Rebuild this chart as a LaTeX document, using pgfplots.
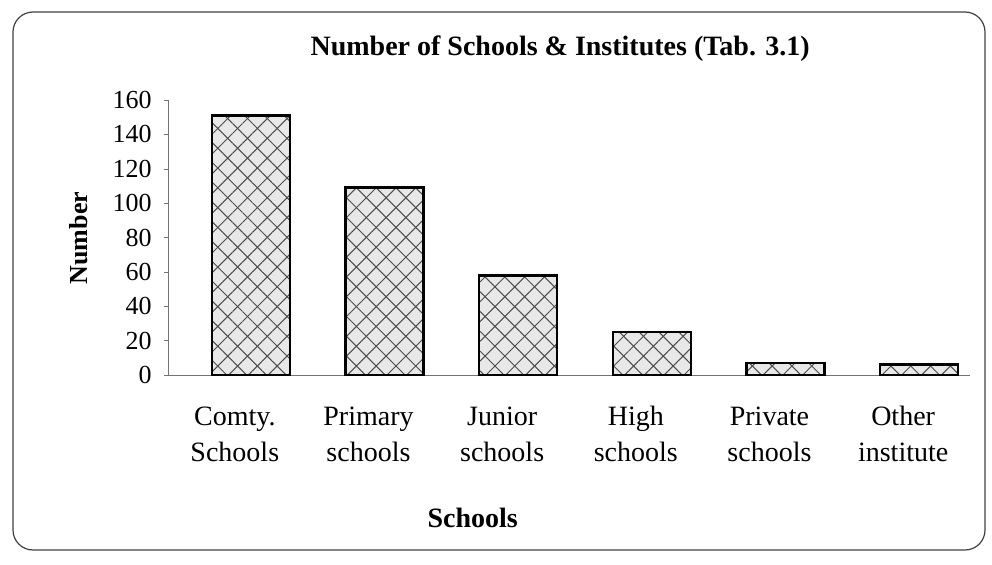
\documentclass[border=0pt]{standalone}
\usepackage{fontspec}
\setmainfont{Liberation Serif}
\usepackage{pgfplots}
\pgfplotsset{compat=1.18}
\usetikzlibrary{patterns.meta}
\begin{document}
\begin{tikzpicture}
\fontsize{12}{18}\selectfont
\path (0,0) rectangle (496pt,282pt);
\draw[black!75, line width=0.6pt, rounded corners=10pt] (6.5pt,7pt) rectangle (492.5pt,276pt);
\begin{axis}[
  scale only axis,
  width=401pt, height=137.5pt,
  at={(84pt,94.5pt)}, anchor=south west,
  xmin=-0.5, xmax=5.5, ymin=0, ymax=160,
  axis x line*=bottom, axis y line*=left,
  axis line style={black!55, line width=0.5pt},
  xtick={0,1,2,3,4,5},
  xticklabels={{\strut Comty.\\\strut Schools},{\strut Primary\\\strut schools},{\strut Junior\\\strut schools},{\strut High\\\strut schools},{\strut Private\\\strut schools},{\strut Other\\\strut institute}},
  major x tick style={draw=none},
  extra x ticks={-0.5,0.5,1.5,2.5,3.5,4.5,5.5},
  extra x tick labels={},
  extra x tick style={major tick length=4pt, tick align=outside, tick style={black!55, line width=0.5pt}},
  xticklabel style={align=center, font=\fontsize{14}{18}\selectfont, yshift=-6.5pt},
  ytick={0,20,...,160},
  yticklabel style={font=\fontsize{13}{14}\selectfont, xshift=-2pt},
  major y tick style={black!55},
  tick align=outside, major tick length=2pt,
  /pgf/number format/assume math mode=true,
  title={\textbf{Number of Schools \& Institutes (Tab. 3.1)}},
  title style={at={(axis description cs:0.489,1.145)}, anchor=center, font=\fontsize{14}{16}\selectfont},
  xlabel={\textbf{Schools}},
  xlabel style={at={(axis description cs:0.38,-0.52)}, anchor=center, font=\fontsize{14}{16}\selectfont},
  ylabel={\textbf{Number}},
  ylabel style={at={(axis description cs:-0.112,0.498)}, anchor=center, font=\fontsize{13}{14}\selectfont},
  clip=false,
]
\addplot[ybar, bar width=39pt, bar shift=8pt, draw=black, line width=1.3pt, fill=gray!18,
  postaction={pattern={Lines[angle=45,distance=7pt,line width=0.5pt]}, pattern color=black!70},
  postaction={pattern={Lines[angle=-45,distance=7pt,line width=0.5pt]}, pattern color=black!70}]
  coordinates {(0,151) (1,109) (2,58) (3,25) (4,7) (5,6)};
\end{axis}
\end{tikzpicture}
\end{document}
